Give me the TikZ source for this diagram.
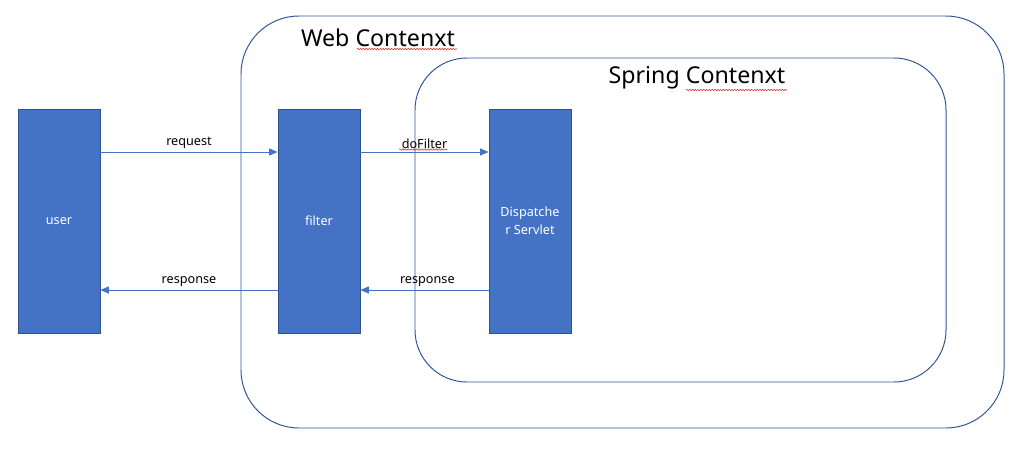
\documentclass[tikz,border=0pt]{standalone}
\usepackage{fontspec}
\setmainfont{Noto Sans}
\definecolor{boxblue}{HTML}{4472C4}
\definecolor{boxedge}{HTML}{2F528F}
\definecolor{ctxedge}{HTML}{2F5597}
\definecolor{spellred}{HTML}{E03030}
\usetikzlibrary{arrows.meta,positioning,decorations.pathmorphing}

\begin{document}
\begin{tikzpicture}[
  x=0.025cm, y=-0.025cm,
  every node/.style={font=\fontsize{9}{13}\selectfont},
  block/.style={draw=boxedge,fill=boxblue,text=white,line width=0.6pt,
                minimum width=2.05cm,minimum height=5.6cm,align=center,inner sep=2pt},
  ctx/.style={draw=ctxedge,line width=0.7pt},
  title/.style={font=\fontsize{16.5}{19}\selectfont},
  flow/.style={draw=boxblue,line width=0.7pt,-{Triangle[length=6pt,width=5pt]}},
  lbl/.style={above=-1pt,text=black},
  spell/.style={spellred,line width=0.4pt,decorate,
                decoration={snake,amplitude=0.5pt,segment length=2pt}},
]
  \useasboundingbox (0,0) rectangle (1019,448);

  % Contexts
  \draw[ctx,rounded corners=1.45cm] (241,16) rectangle (1004,428);
  \draw[ctx,rounded corners=1.3cm] (415,58) rectangle (946,382);
  \node[title] (webtitle) at (378,38) {Web Contenxt};
  \node[title] (springtitle) at (697,78) {Spring Contenxt};

  % Blocks
  \node[block] (user)   at (59,221)  {user};
  \node[block] (filter) at (319,221) {filter};
  \node[block] (disp)   at (530,221) {Dispatche\\r Servlet};

  % Requests
  \draw[flow] (user.east |- 0,152) -- node[lbl] {request} (filter.west |- 0,152);
  \draw[flow] (filter.east |- 0,152) -- node[lbl] (dofilter) {doFilter} (disp.west |- 0,152);

  % Responses
  \draw[flow] (filter.west |- 0,290) -- node[lbl] {response} (user.east |- 0,290);
  \draw[flow] (disp.west |- 0,290) -- node[lbl,xshift=2pt] {response} (filter.east |- 0,290);

  % Spell check marks
  \draw[spell] (357,49) -- (457,49);
  \draw[spell] (686,90) -- (787,90);
  \draw[spell] (399,149.5) -- (447,149.5);
\end{tikzpicture}
\end{document}
